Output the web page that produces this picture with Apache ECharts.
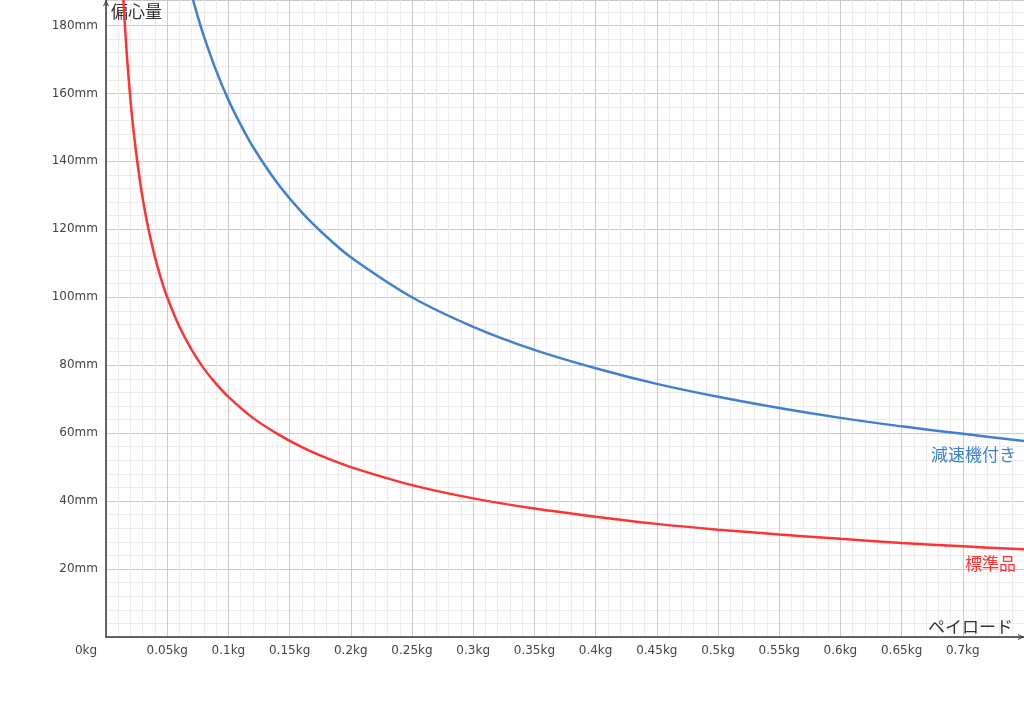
<!DOCTYPE html>
<html>
<head>
<meta charset="utf-8">
<script src="https://cdn.jsdelivr.net/npm/echarts@6/dist/echarts.min.js"></script>
<style>
html,body{margin:0;padding:0;background:#fff;}
#chart{width:1024px;height:715px;}
</style>
</head>
<body>
<div id="chart"></div>
<script>
// Series names
const seriesNames = ['標準品', '減速機付き'];
// 標準品 (red) readings: payload kg, eccentricity mm
const stdX = [0.012,0.013,0.014,0.015,0.017,0.02,0.023,0.026,0.03,0.035,0.04,0.045,0.05,0.06,0.07,0.08,0.09,0.1,0.12,0.14,0.16,0.18,0.2,0.25,0.3,0.35,0.4,0.45,0.5,0.55,0.6,0.65,0.7,0.75];
const stdY = [204,196,189,182.6,171.5,158,147.4,138.7,129,119.5,111.8,105.4,100,91.3,84.5,79,74.5,70.7,64.5,59.8,55.9,52.7,50,44.7,40.8,37.8,35.4,33.3,31.6,30.2,28.9,27.7,26.7,25.8];
// 減速機付き (blue) readings
const gearX = [0.06,0.065,0.07,0.075,0.08,0.09,0.1,0.11,0.12,0.14,0.16,0.18,0.2,0.25,0.3,0.35,0.4,0.45,0.5,0.55,0.6,0.65,0.7,0.75];
const gearY = [204.1,196.1,189,182.6,176.8,166.7,158.1,150.8,144.3,133.6,125,117.9,111.8,100,91.3,84.5,79.1,74.5,70.7,67.4,64.5,62,59.8,57.7];
// Axis settings
const xMin = 0, xMax = 0.75, xInterval = 0.05;
const yMin = 0, yMax = 187.5, yInterval = 20;
const xName = 'ペイロード';
const yName = '偏心量';

const zip = (xs, ys) => xs.map((x, i) => [x, ys[i]]);
const arrow = 'path://M0,10 L5,0 L10,10 L8.2,10 L5,3.2 L1.8,10 Z';
const latin = 'DejaVu Sans';
const cjk = '"Noto Sans CJK JP"';

const chart = echarts.init(document.getElementById('chart'), null, {renderer: 'canvas'});
chart.setOption({
  animation: false,
  backgroundColor: '#fff',
  grid: {left: 106, right: 0, top: 0, bottom: 78, outerBoundsMode: 'none', containLabel: false},
  xAxis: {
    type: 'value', min: xMin, max: xMax, interval: xInterval,
    name: xName, nameLocation: 'end', nameGap: -11,
    nameTextStyle: {fontFamily: cjk, fontSize: 17, color: '#333', align: 'right', verticalAlign: 'bottom', padding: [0, 0, 2, 0]},
    axisLine: {show: true, symbol: ['none', arrow], symbolSize: [9, 6], symbolOffset: [0, -3], lineStyle: {color: '#3a3a3a', width: 1.5}},
    axisTick: {show: false},
    axisLabel: {
      show: true, showMaxLabel: false, margin: 8, color: '#444', fontFamily: latin, fontSize: 12,
      formatter: v => v === 0 ? '{z|0kg}' : (+v.toFixed(2)) + 'kg',
      rich: {z: {fontFamily: latin, fontSize: 12, color: '#444', padding: [0, 40, 0, 0]}}
    },
    splitLine: {show: true, lineStyle: {color: '#cbcbcb', width: 1}},
    minorTick: {show: false, splitNumber: 5},
    minorSplitLine: {show: true, lineStyle: {color: '#ececec', width: 1}}
  },
  yAxis: {
    type: 'value', min: yMin, max: yMax, interval: yInterval,
    name: yName, nameLocation: 'end', nameGap: -12,
    nameTextStyle: {fontFamily: cjk, fontSize: 17, color: '#333', align: 'left', verticalAlign: 'middle', padding: [0, 0, 0, 5]},
    axisLine: {show: true, symbol: ['none', arrow], symbolSize: [9, 6], symbolOffset: [0, -3], lineStyle: {color: '#3a3a3a', width: 1.5}},
    axisTick: {show: false},
    axisLabel: {show: true, showMinLabel: false, showMaxLabel: false, margin: 8, color: '#444', fontFamily: latin, fontSize: 12, formatter: v => v + 'mm'},
    splitLine: {show: true, lineStyle: {color: '#cbcbcb', width: 1}},
    minorTick: {show: false, splitNumber: 5},
    minorSplitLine: {show: true, lineStyle: {color: '#ececec', width: 1}}
  },
  series: [
    {
      name: seriesNames[0], type: 'line', data: zip(stdX, stdY), smooth: 0.3, showSymbol: false, clip: true,
      lineStyle: {color: '#ff3333', width: 2.5}, itemStyle: {color: '#ff3333'},
      endLabel: {show: true, formatter: seriesNames[0], color: '#ff3333', fontFamily: cjk, fontSize: 17, align: 'right', verticalAlign: 'middle', offset: [-16, 14]}
    },
    {
      name: seriesNames[1], type: 'line', data: zip(gearX, gearY), smooth: 0.3, showSymbol: false, clip: true,
      lineStyle: {color: '#3f80d2', width: 2.5}, itemStyle: {color: '#3f80d2'},
      endLabel: {show: true, formatter: seriesNames[1], color: '#3f80d2', fontFamily: cjk, fontSize: 17, align: 'right', verticalAlign: 'middle', offset: [-16, 14]}
    }
  ]
});
</script>
</body>
</html>
